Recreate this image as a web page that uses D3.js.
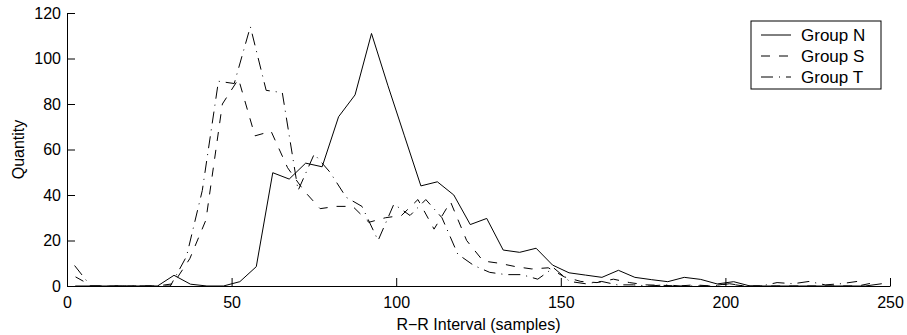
<!DOCTYPE html>
<html>
<head>
<meta charset="utf-8">
<script src="https://cdn.jsdelivr.net/npm/d3@7"></script>
<style>
  body { margin: 0; background: #fff; }
  text { font-family: Arial, "Liberation Sans", Helvetica, sans-serif; fill: #000; }
</style>
</head>
<body>
<svg id="chart" width="907" height="335"></svg>
<script>
// bin centres (samples) for each group
const binsN = [2.5, 7.5, 12.5, 17.5, 22.5, 27.5, 32.5, 37.5, 42.5, 47.5,
  52.5, 57.5, 62.5, 67.5, 72.5, 77.5, 82.5, 87.5, 92.5, 97.5,
  102.5, 107.5, 112.5, 117.5, 122.5, 127.5, 132.5, 137.5, 142.5, 147.5,
  152.5, 157.5, 162.5, 167.5, 172.5, 177.5, 182.5, 187.5, 192.5, 197.5,
  202.5, 207.5, 212.5, 217.5, 222.5, 227.5, 232.5, 237.5, 242.5, 247.5]
const binsS = [2.6, 7.6, 12.5, 17.5, 22.4, 27.4, 32.3, 37.3, 42.2, 47.2,
  52.1, 57.1, 62.0, 67.0, 71.9, 76.9, 81.8, 86.8, 91.7, 96.7,
  101.6, 106.6, 111.5, 116.5, 121.4, 126.4, 131.3, 136.3, 141.2, 146.2,
  151.1, 156.1, 161.0, 166.0, 170.9, 175.9, 180.8, 185.8, 190.7, 195.7,
  200.6, 205.6, 210.5, 215.5, 220.4, 225.4, 230.3, 235.3, 240.2, 245.2]
const binsT = [2.3, 7.2, 12.0, 16.9, 21.7, 26.6, 31.4, 36.3, 41.1, 46.0,
  50.8, 55.7, 60.5, 65.4, 70.2, 75.1, 79.9, 84.8, 89.6, 94.5,
  99.3, 104.2, 109.0, 113.9, 118.7, 123.6, 128.4, 133.3, 138.1, 143.0,
  147.8, 152.7, 157.5, 162.4, 167.2, 172.1, 176.9, 181.8, 186.6, 191.5,
  196.3, 201.2, 206.0, 210.9, 215.7, 220.6, 225.4, 230.3, 235.1, 240.0]

// counts per bin
const countN = [0, 0, 0, 0, 0, 0, 4.7, 0.8, 0, 0,
  1.9, 8.5, 49.8, 47, 54, 52.4, 74.4, 84, 111, 88,
  66, 44, 45.8, 40, 27, 29.7, 15.8, 14.8, 16.6, 9.2,
  5.8, 4.8, 3.8, 6.9, 3.8, 2.8, 1.9, 3.8, 2.9, 0.9,
  1.9, 0, 0, 0, 0, 0, 0, 0, 0, 1]
const countS = [4, 0, 0, 0, 0, 0, 1, 12, 29, 80,
  91, 66, 68, 52, 42, 34, 35, 35, 28, 30,
  31, 38, 25, 37, 20, 11, 10, 8.5, 7.5, 8,
  4, 2, 1.5, 3, 1.5, 0.5, 0.3, 0, 0.5, 0,
  1, 0, 0, 0, 0, 0, 0, 0, 0, 1.5]
const countT = [9, 0, 0, 0, 0, 0, 0, 13, 42, 90,
  89, 114, 86, 85, 42, 58, 50, 39, 35, 20,
  36, 31, 38, 30, 14, 9, 6, 5, 5, 3,
  8, 2, 1, 2, 0.5, 0.5, 0, 0.5, 0, 0,
  0, 1, 0, 0, 1.5, 1, 2, 0.5, 1, 2]

const groupNames = ['Group N', 'Group S', 'Group T']
const xTicks = [0, 50, 100, 150, 200, 250]
const yTicks = [0, 20, 40, 60, 80, 100, 120]

const series = [
  { name: groupNames[0], x: binsN, y: countN, dash: null },
  { name: groupNames[1], x: binsS, y: countS, dash: '9,9' },
  { name: groupNames[2], x: binsT, y: countT, dash: '12,6,1,6' }
]

const svg = d3.select('#chart')
const margin = { top: 13, right: 17, bottom: 49, left: 67 }
const width = 907 - margin.left - margin.right
const height = 335 - margin.top - margin.bottom
const g = svg.append('g').attr('transform', `translate(${margin.left},${margin.top})`)

const x = d3.scaleLinear().domain([0, 250]).range([0, width])
const y = d3.scaleLinear().domain([0, 120]).range([height, 0])

// lines
const line = d3.line().x(d => x(d[0])).y(d => y(d[1]))
g.selectAll('path.series')
  .data(series)
  .join('path')
  .attr('class', 'series')
  .attr('fill', 'none')
  .attr('stroke', '#000')
  .attr('stroke-width', 1)
  .attr('stroke-dasharray', d => d.dash)
  .attr('d', d => line(d.x.map((v, i) => [v, d.y[i]])))

// axes, ticks pointing inward
const xAxis = g.append('g')
  .attr('transform', `translate(0,${height})`)
  .call(d3.axisBottom(x).tickValues(xTicks).tickSizeInner(-8).tickSizeOuter(0).tickPadding(11))
const yAxis = g.append('g')
  .call(d3.axisLeft(y).tickValues(yTicks).tickSizeInner(-8).tickSizeOuter(0).tickPadding(14))
for (const ax of [xAxis, yAxis]) {
  ax.selectAll('text').attr('font-size', 16).attr('font-family', 'Arial, "Liberation Sans", sans-serif').attr('fill', '#000')
  ax.selectAll('line').attr('stroke', '#000')
  ax.select('.domain').attr('stroke', '#000')
}
yAxis.selectAll('.tick text').attr('dx', 8)

// axis titles
svg.append('text')
  .attr('x', margin.left + width / 2)
  .attr('y', 330)
  .attr('text-anchor', 'middle')
  .attr('font-size', 16)
  .text('R\u2212R Interval (samples)')
svg.append('text')
  .attr('transform', `translate(24,${margin.top + height / 2}) rotate(-90)`)
  .attr('text-anchor', 'middle')
  .attr('font-size', 16)
  .text('Quantity')

// legend
const legend = svg.append('g').attr('transform', 'translate(751,21)')
legend.append('rect')
  .attr('width', 130).attr('height', 68)
  .attr('fill', '#fff').attr('stroke', '#000')
const rows = legend.selectAll('g.row')
  .data(series)
  .join('g')
  .attr('class', 'row')
  .attr('transform', (d, i) => `translate(0,${14 + i * 21})`)
rows.append('line')
  .attr('x1', 10).attr('x2', 40)
  .attr('stroke', '#000')
  .attr('stroke-dasharray', d => d.dash)
rows.append('text')
  .attr('x', 50).attr('dy', '0.35em')
  .attr('font-size', 17)
  .text(d => d.name)
</script>
</body>
</html>
